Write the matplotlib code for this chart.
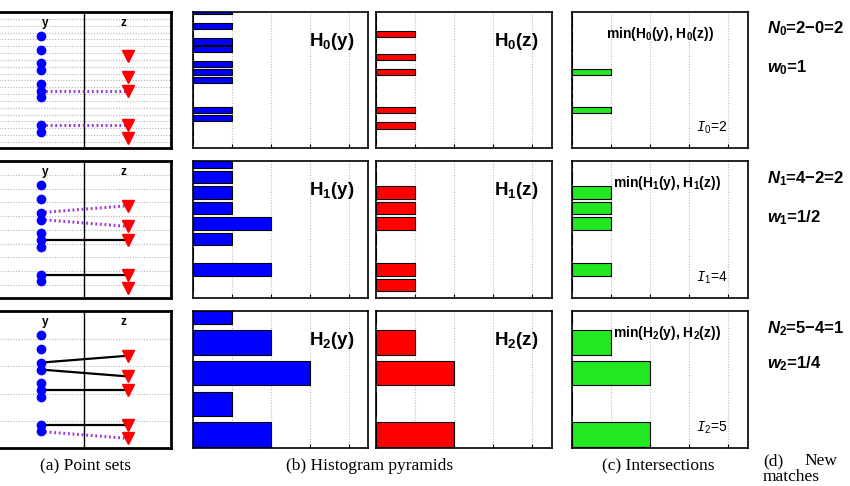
import numpy as np
import matplotlib.pyplot as plt

plt.rcParams['font.family'] = 'Liberation Sans'
plt.rcParams['mathtext.fontset'] = 'custom'
plt.rcParams['mathtext.default'] = 'regular'
plt.rcParams['mathtext.it'] = 'Liberation Sans:italic:bold'
plt.rcParams['mathtext.cal'] = 'Liberation Mono:italic'

# 1-D point sets (bin index at finest level)
y_pts = [0, 2, 4, 5, 7, 8, 9, 13, 14]
z_pts = [3, 6, 8, 13, 15]

# matches found at each level (y value, z value)
new_matches = [[(8, 8), (13, 13)],
               [(4, 3), (5, 6)],
               [(14, 15)]]

# histogram counts per bin, levels 0..2
hist_y = [[1, 0, 1, 0, 1, 1, 0, 1, 1, 1, 0, 0, 0, 1, 1, 0, 0, 0],
          [1, 1, 1, 1, 2, 1, 0, 2, 0],
          [1, 2, 3, 1, 2]]
hist_z = [[0, 0, 0, 1, 0, 0, 1, 0, 1, 0, 0, 0, 0, 1, 0, 1, 0, 0],
          [0, 0, 1, 1, 1, 0, 0, 1, 1],
          [0, 1, 2, 0, 2]]
hist_min = [[0, 0, 0, 0, 0, 0, 0, 0, 1, 0, 0, 0, 0, 1, 0, 0, 0, 0],
            [0, 0, 1, 1, 1, 0, 0, 1, 0],
            [0, 1, 2, 0, 2]]

intersections = [2, 4, 5]
n_new = ['2\u22120=2', '4\u22122=2', '5\u22124=1']
weights = ['1', '1/2', '1/4']

purple = '#9a3be0'
blue = '#0000ff'
red = '#ff0000'
green = '#22e822'

fig = plt.figure(figsize=(8.5, 4.86), dpi=100)


def ax_at(x0, x1, y0, y1):
    return fig.add_axes([x0 / 850, 1 - y1 / 486, (x1 - x0) / 850, (y1 - y0) / 486])


rows = [(12, 148), (161, 298), (311, 448)]
grid_a = [np.arange(-2.5, 16, 1), np.arange(-1.5, 16, 2), np.arange(0.5, 16, 4)]
hist_top = [0.143, -0.104, -0.065]
txt_min_x = [0.50, 0.54, 0.54]


def hist_panel(ax, counts, level, color, label=None):
    w = 2 ** level
    pos = w * np.arange(len(counts))
    ax.barh(pos, counts, height=0.8 * w, color=color, edgecolor='black', linewidth=0.8, zorder=2)
    top = hist_top[level]
    ax.set_ylim(top + 17.8, top)
    ax.set_xlim(0, 4.5)
    ax.set_xticks([1, 2, 3, 4])
    ax.set_yticks([])
    ax.tick_params(axis='x', direction='in', length=3, labelbottom=False)
    ax.grid(axis='x', color='#bbbbbb', linestyle=(0, (1, 1.5)), linewidth=0.8, zorder=0)
    for s in ax.spines.values():
        s.set_linewidth(1.2)
    if label:
        ax.text(0.925, 0.75, label, transform=ax.transAxes, ha='right', va='baseline',
                fontsize=13.5, fontweight='bold')


for L in range(3):
    r0, r1 = rows[L]

    # (a) point sets
    ax = ax_at(-3, 171, r0, r1)
    ax.set_xlim(-1, 1)
    ax.set_ylim(16.4, -3.5)
    for g in grid_a[L]:
        ax.axhline(g, color='#b4b4b4', lw=0.8, ls=(0, (1, 1.5)), zorder=0)
    ax.axvline(0, color='black', lw=1)
    old = [m for lv in range(L) for m in new_matches[lv]]
    for a, b in old:
        ax.plot([-0.5, 0.5], [a, b], color='black', lw=1.6, zorder=2)
    for a, b in new_matches[L]:
        ax.plot([-0.5, 0.5], [a, b], color=purple, lw=2.2, ls=(0, (0.6, 0.9)), zorder=2)
    ax.plot([-0.5] * len(y_pts), y_pts, 'o', color=blue, ms=6, mec=blue, zorder=3)
    ax.plot([0.5] * len(z_pts), z_pts, 'v', color=red, ms=8, mec=red, zorder=3)
    ax.text(-0.45, -1.4, 'y', ha='center', va='baseline', fontsize=8.5, fontweight='bold')
    ax.text(0.45, -1.4, 'z', ha='center', va='baseline', fontsize=8.5, fontweight='bold')
    ax.set_xticks([])
    ax.set_yticks([])
    for s in ax.spines.values():
        s.set_linewidth(2)

    # (b) histograms
    hist_panel(ax_at(193, 368, r0, r1), hist_y[L], L, blue, 'H$_%d$(y)' % L)
    hist_panel(ax_at(376, 552, r0, r1), hist_z[L], L, red, 'H$_%d$(z)' % L)

    # (c) intersections
    axc = ax_at(572, 748, r0, r1)
    hist_panel(axc, hist_min[L], L, green)
    axc.text(txt_min_x[L], 0.81, 'min(H$_%d$(y), H$_%d$(z))' % (L, L), transform=axc.transAxes,
             ha='center', va='baseline', fontsize=10, fontweight='bold')
    axc.text(0.886, 0.12, r'$\mathcal{I}_%d$=%d' % (L, intersections[L]), transform=axc.transAxes,
             ha='right', va='baseline', fontsize=10)

    # (d) new matches
    ny = [33, 183, 333][L]
    wy = [72, 222, 368][L]
    fig.text(767 / 850, 1 - ny / 486, r'$\mathit{N}_%d$=%s' % (L, n_new[L]),
             fontsize=12, fontweight='bold', va='baseline')
    fig.text(767 / 850, 1 - wy / 486, r'$\mathit{w}_%d$=%s' % (L, weights[L]),
             fontsize=12, fontweight='bold', va='baseline')

cap = dict(fontsize=12.5, family='Liberation Serif', va='baseline')
fig.text(85 / 850, 1 - 470 / 486, '(a) Point sets', ha='center', **cap)
fig.text(370 / 850, 1 - 470 / 486, '(b) Histogram pyramids', ha='center', **cap)
fig.text(658 / 850, 1 - 470 / 486, '(c) Intersections', ha='center', **cap)
fig.text(763 / 850, 1 - 465 / 486, '(d)', ha='left', **cap)
fig.text(837 / 850, 1 - 465 / 486, 'New', ha='right', **cap)
fig.text(763 / 850, 1 - 481 / 486, 'matches', ha='left', **cap)

fig.savefig('out.png', dpi=100)
